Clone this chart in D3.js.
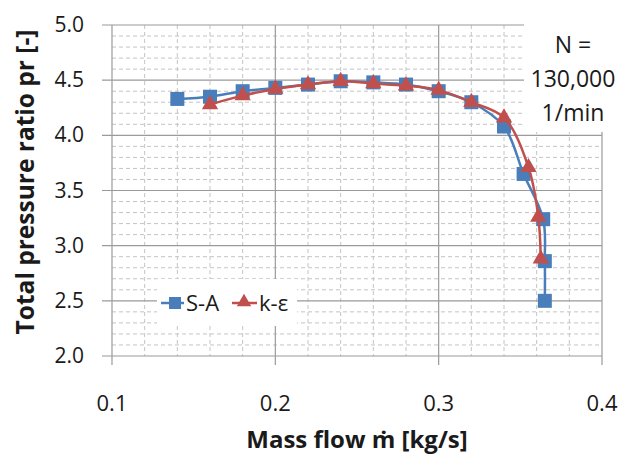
<!DOCTYPE html>
<html lang="en">
<head>
<meta charset="UTF-8">
<title>Total pressure ratio</title>
<style>
    body { margin:0; background:#fff; }
    text { font-family: "Open Sans", sans-serif; fill:#1a1a1a; }
</style>
</head>
<body>
<script src="https://cdn.jsdelivr.net/npm/d3@7/dist/d3.min.js"></script>
<script>
    // S-A data
    var saFlow  = [0.14,0.16,0.18,0.20,0.22,0.24,0.26,0.28,0.30,0.32,0.34,0.352,0.364,0.365,0.365];
    var saRatio = [4.33,4.35,4.40,4.43,4.46,4.49,4.48,4.46,4.40,4.30,4.08,3.65,3.24,2.86,2.50];
    // k-eps data
    var keFlow  = [0.16,0.18,0.20,0.22,0.24,0.26,0.28,0.30,0.32,0.34,0.355,0.361,0.3625];
    var keRatio = [4.28,4.36,4.42,4.46,4.49,4.47,4.45,4.41,4.30,4.16,3.71,3.26,2.88];

    var xTicks = [0.1,0.2,0.3,0.4];
    var yTicks = [2.0,2.5,3.0,3.5,4.0,4.5,5.0];
    var legendNames = ["S-A","k-ε"];
    var noteLines = ["N =","130,000","1/min"];

    var W = 621, H = 456;
    var ml = 112, mt = 25, w = 490, h = 331;

    var svg = d3.select("body").append("svg").attr("width",W).attr("height",H);

    var x = d3.scaleLinear().domain([0.1,0.4]).range([ml,ml+w]);
    var y = d3.scaleLinear().domain([2,5]).range([mt+h,mt]);

    // minor grid (dashed)
    var g = svg.append("g");
    g.selectAll("line.mx").data(d3.range(0.12,0.4,0.02).filter(function(d){return Math.abs(d*10-Math.round(d*10))>0.01;}))
        .enter().append("line")
        .attr("x1",function(d){return x(d);}).attr("x2",function(d){return x(d);})
        .attr("y1",mt).attr("y2",mt+h)
        .attr("stroke","#c4c4c4").attr("stroke-dasharray","4,3");
    g.selectAll("line.my").data(d3.range(2.1,5,0.1).filter(function(d){return Math.abs(d*2-Math.round(d*2))>0.01;}))
        .enter().append("line")
        .attr("x1",ml).attr("x2",ml+w)
        .attr("y1",function(d){return y(d);}).attr("y2",function(d){return y(d);})
        .attr("stroke","#c4c4c4").attr("stroke-dasharray","4,3");

    // major grid
    g.selectAll("line.gx").data(xTicks).enter().append("line")
        .attr("x1",function(d){return x(d);}).attr("x2",function(d){return x(d);})
        .attr("y1",mt).attr("y2",mt+h+9)
        .attr("stroke","#9a9a9a").attr("stroke-width",1.2);
    g.selectAll("line.gy").data(yTicks).enter().append("line")
        .attr("x1",ml-10).attr("x2",ml+w)
        .attr("y1",function(d){return y(d);}).attr("y2",function(d){return y(d);})
        .attr("stroke","#9a9a9a").attr("stroke-width",1.2);

    // tick labels
    svg.selectAll("text.xt").data(xTicks).enter().append("text")
        .attr("x",function(d){return x(d);}).attr("y",mt+h+55)
        .attr("text-anchor","middle").attr("font-size",22)
        .text(function(d){return d3.format(".1f")(d);});
    svg.selectAll("text.yt").data(yTicks).enter().append("text")
        .attr("x",ml-28).attr("y",function(d){return y(d)+7;})
        .attr("text-anchor","end").attr("font-size",21)
        .text(function(d){return d3.format(".1f")(d);});

    // axis titles
    svg.append("text").attr("x",357).attr("y",448)
        .attr("text-anchor","middle").attr("font-size",24).attr("font-weight","bold")
        .text("Mass flow ṁ [kg/s]");
    svg.append("text").attr("transform","translate(34,182) rotate(-90)")
        .attr("text-anchor","middle").attr("font-size",24.5).attr("font-weight","bold")
        .text("Total pressure ratio pr [-]");

    // note box (covers top right of grid)
    svg.append("rect").attr("x",524).attr("y",0).attr("width",W-524).attr("height",132).attr("fill","#fff");
    svg.selectAll("text.note").data(noteLines).enter().append("text")
        .attr("x",573).attr("y",function(d,i){return 53+i*34;})
        .attr("text-anchor","middle").attr("font-size",23)
        .text(function(d){return d;});

    // series
    var blue = "#4a7ebb", red = "#c0504d";
    var line = d3.line().x(function(d){return x(d[0]);}).y(function(d){return y(d[1]);})
        .curve(d3.curveCatmullRom.alpha(0.5));
    var sa = d3.zip(saFlow,saRatio), ke = d3.zip(keFlow,keRatio);

    svg.append("path").attr("d",line(sa)).attr("fill","none").attr("stroke",blue).attr("stroke-width",2.5);
    svg.selectAll("rect.sa").data(sa).enter().append("rect")
        .attr("x",function(d){return x(d[0])-7;}).attr("y",function(d){return y(d[1])-7;})
        .attr("width",14).attr("height",14).attr("fill",blue);

    var tri = d3.symbol().type(d3.symbolTriangle).size(115);
    svg.append("path").attr("d",line(ke)).attr("fill","none").attr("stroke",red).attr("stroke-width",2.5);
    svg.selectAll("path.ke").data(ke).enter().append("path")
        .attr("d",tri)
        .attr("transform",function(d){return "translate("+x(d[0])+","+y(d[1])+")";})
        .attr("fill",red);

    // legend
    svg.append("rect").attr("x",157).attr("y",279).attr("width",140).attr("height",47).attr("fill","#fff");
    var lg = svg.append("g");
    lg.append("line").attr("x1",161).attr("x2",184).attr("y1",303).attr("y2",303).attr("stroke",blue).attr("stroke-width",2.5);
    lg.append("rect").attr("x",169).attr("y",297).attr("width",12).attr("height",12).attr("fill",blue);
    lg.append("text").attr("x",186).attr("y",311).attr("font-size",22).text(legendNames[0]);
    lg.append("line").attr("x1",232).attr("x2",257).attr("y1",303).attr("y2",303).attr("stroke",red).attr("stroke-width",2.5);
    lg.append("path").attr("d",d3.symbol().type(d3.symbolTriangle).size(90))
        .attr("transform","translate(244,302)").attr("fill",red);
    lg.append("text").attr("x",259).attr("y",311).attr("font-size",22).text(legendNames[1]);
</script>
</body>
</html>
